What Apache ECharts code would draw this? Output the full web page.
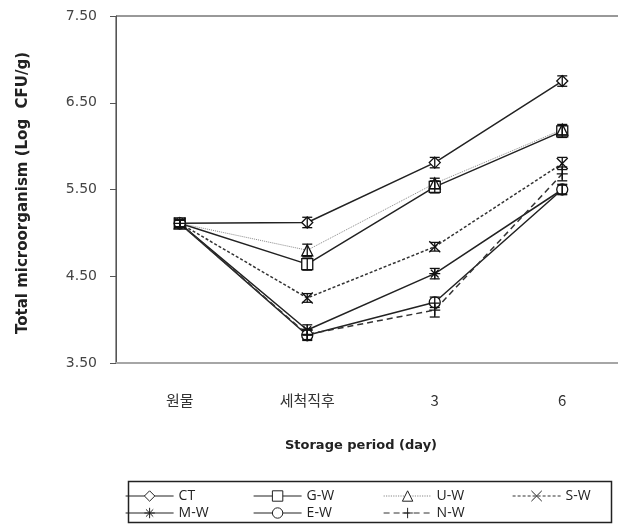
<!DOCTYPE html>
<html><head><meta charset="utf-8">
<script src="https://cdn.jsdelivr.net/npm/echarts@6/dist/echarts.min.js"></script>
<style>html,body{margin:0;padding:0;background:#fff}#c{width:618px;height:526px}</style>
</head><body><div id="c"></div>
<script>
var categories = ['원물', '세척직후', '3', '6'];
var yTicks = [3.5, 4.5, 5.5, 6.5, 7.5];
var seriesNames = ['CT', 'G-W', 'U-W', 'S-W', 'M-W', 'E-W', 'N-W'];
var CT  = [5.11, 5.12, 5.81, 6.75];
var GW  = [5.11, 4.64, 5.53, 6.17];
var UW  = [5.11, 4.80, 5.57, 6.19];
var SW  = [5.11, 4.25, 4.84, 5.80];
var MW  = [5.11, 3.88, 4.53, 5.50];
var EW  = [5.11, 3.82, 4.20, 5.50];
var NW  = [5.11, 3.83, 4.11, 5.68];
var CT_err = [0.04, 0.06, 0.06, 0.06];
var GW_err = [0.04, 0.07, 0.07, 0.07];
var UW_err = [0.04, 0.07, 0.06, 0.06];
var SW_err = [0.04, 0.05, 0.05, 0.07];
var MW_err = [0.04, 0.06, 0.06, 0.06];
var EW_err = [0.04, 0.06, 0.06, 0.05];
var NW_err = [0.04, 0.06, 0.08, 0.08];

var values = [CT, GW, UW, SW, MW, EW, NW];
var errs = [CT_err, GW_err, UW_err, SW_err, MW_err, EW_err, NW_err];
var symbols = [
  'diamond', 'rect', 'triangle',
  'path://M0,0L10,10M10,0L0,10',
  'path://M5,0L5,10M0,5L10,5M1.5,1.5L8.5,8.5M8.5,1.5L1.5,8.5',
  'circle',
  'path://M5,0L5,10M0,5L10,5'
];
var lineTypes = ['solid', 'solid', 'dotted', [3, 2], 'solid', 'solid', [6, 4]];
var lineColors = ['#222', '#222', '#888', '#333', '#222', '#222', '#333'];
var lineWidths = [1.5, 1.5, 1, 1.5, 1.5, 1.5, 1.5];

var series = [];
seriesNames.forEach(function (n, i) {
  series.push({
    name: n, type: 'line', data: values[i],
    symbol: symbols[i], symbolSize: 11, showSymbol: true,
    lineStyle: { color: lineColors[i], type: lineTypes[i], width: lineWidths[i] },
    itemStyle: { color: '#fff', borderColor: '#111', borderWidth: 1.3 },
    z: 3
  });
  series.push({
    name: n + '_err', type: 'custom', z: 4,
    data: values[i].map(function (v, k) { return [k, v, errs[i][k]]; }),
    renderItem: function (params, api) {
      var x = api.value(0), y = api.value(1), e = api.value(2);
      var hi = api.coord([x, y + e]), lo = api.coord([x, y - e]);
      var w = 5;
      var st = { stroke: '#111', lineWidth: 1.3 };
      return { type: 'group', children: [
        { type: 'line', shape: { x1: hi[0], y1: hi[1], x2: lo[0], y2: lo[1] }, style: st },
        { type: 'line', shape: { x1: hi[0] - w, y1: hi[1], x2: hi[0] + w, y2: hi[1] }, style: st },
        { type: 'line', shape: { x1: lo[0] - w, y1: lo[1], x2: lo[0] + w, y2: lo[1] }, style: st }
      ]};
    },
    silent: true
  });
});

var legendPos = [
  [125, 489], [253, 489], [383, 489], [512, 489],
  [125, 506], [253, 506], [383, 506]
];
var legends = seriesNames.map(function (n, i) {
  return {
    data: [n], left: legendPos[i][0], top: legendPos[i][1],
    itemWidth: 48, itemHeight: 13, itemGap: 0,
    itemStyle: { color: '#fff', borderColor: '#222', borderWidth: 1 },
    lineStyle: { width: 1.2 },
    textStyle: { fontFamily: 'Open Sans', fontSize: 14, color: '#222' },
    padding: 0, selectedMode: false
  };
});

var chart = echarts.init(document.getElementById('c'), null, { renderer: 'canvas' });
chart.setOption({
  backgroundColor: '#fff',
  animation: false,
  grid: { left: 116, width: 510, top: 16, bottom: 163, outerBoundsMode: 'none', containLabel: false,
    show: true, borderColor: '#333', borderWidth: 1 },
  legend: legends,
  xAxis: {
    type: 'category', data: categories, boundaryGap: true,
    axisLine: { lineStyle: { color: '#a6a6a6', width: 2 } },
    axisTick: { show: false },
    axisLabel: { margin: 30, fontFamily: 'Noto Sans CJK KR', fontSize: 15, color: '#333' }
  },
  yAxis: {
    type: 'value', min: yTicks[0], max: yTicks[yTicks.length - 1], interval: 1,
    axisLine: { show: true, lineStyle: { color: '#555' } },
    axisTick: { show: true, length: 6, lineStyle: { color: '#555' } },
    splitLine: { show: false },
    axisLabel: { margin: 19, fontFamily: 'DejaVu Sans', fontSize: 14, color: '#444',
      formatter: function (v) { return v.toFixed(2); } }
  },
  graphic: [
    { type: 'text', x: 361, y: 446, style: { text: 'Storage period (day)', fontFamily: 'DejaVu Sans', fontWeight: 'bold', fontSize: 13, fill: '#222', align: 'center', verticalAlign: 'middle' } },
    { type: 'text', x: 23, y: 193, rotation: Math.PI / 2, style: { text: 'Total microorganism (Log  CFU/g)', fontFamily: 'DejaVu Sans', fontWeight: 'bold', fontSize: 15, fill: '#222', align: 'center', verticalAlign: 'middle' } },
    { type: 'rect', shape: { x: 128.5, y: 481.5, width: 483, height: 41 }, style: { fill: 'none', stroke: '#222', lineWidth: 1.5 }, z: -1 }
  ],
  series: series
});
</script></body></html>
